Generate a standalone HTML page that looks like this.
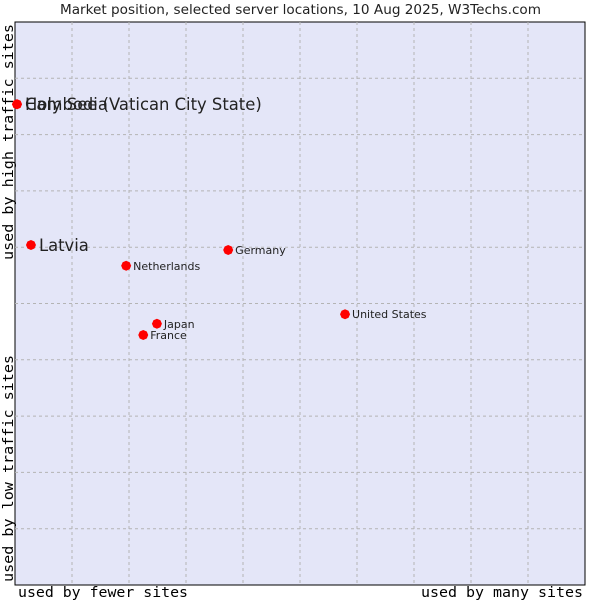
<!DOCTYPE html>
<html><head><meta charset="utf-8"><style>
body{margin:0;background:#fff;}
svg{display:block;font-family:"DejaVu Sans","Liberation Sans",sans-serif;}
.mono{font-family:"DejaVu Sans Mono","Liberation Mono",monospace;font-size:14px;}
</style></head><body>
<svg id="chart" width="600" height="600">
<text x="60" y="14" textLength="481" lengthAdjust="spacingAndGlyphs" font-size="13" fill="#222">Market position, selected server locations, 10 Aug 2025, W3Techs.com</text>
<rect x="15" y="22" width="570" height="563" fill="#e4e6f8" stroke="#000" stroke-width="1"/>
<g id="grid"></g>
<g id="points"></g>
<text class="mono" x="18" y="597" textLength="170" lengthAdjust="spacingAndGlyphs">used by fewer sites</text>
<text class="mono" x="421" y="597" textLength="162" lengthAdjust="spacingAndGlyphs">used by many sites</text>
<text class="mono" transform="translate(13,260) rotate(-90)" textLength="236" lengthAdjust="spacingAndGlyphs">used by high traffic sites</text>
<text class="mono" transform="translate(13,582) rotate(-90)" textLength="227" lengthAdjust="spacingAndGlyphs">used by low traffic sites</text>
</svg>
<script>
const names=["Cambodia","Holy See (Vatican City State)","Latvia","Netherlands","Germany","United States","Japan","France"];
const xVals=[0.35,0.35,2.8,19.5,37.4,57.9,24.9,22.5];
const yVals=[85.4,85.4,60.4,56.7,59.5,48.1,46.4,44.4];
const bigLabel=[true,true,true,false,false,false,false,false];
const X0=15,X1=585,Y0=585,Y1=22;
const sx=v=>X0+(X1-X0)*v/100, sy=v=>Y0-(Y0-Y1)*v/100;
const NS="http://www.w3.org/2000/svg";
const grid=document.getElementById('grid');
for(let i=1;i<10;i++){
  const v=document.createElementNS(NS,'line');
  
  
  v.setAttribute('x1',sx(i*10));v.setAttribute('x2',sx(i*10));v.setAttribute('y1',Y1);v.setAttribute('y2',Y0);
  v.setAttribute('stroke','#b4b4b4');v.setAttribute('stroke-dasharray','3,3');
  grid.appendChild(v);
  const h=document.createElementNS(NS,'line');
  
  
  h.setAttribute('y1',sy(i*10));h.setAttribute('y2',sy(i*10));h.setAttribute('x1',X0);h.setAttribute('x2',X1);
  h.setAttribute('stroke','#b4b4b4');h.setAttribute('stroke-dasharray','3,3');
  grid.appendChild(h);
}
const pts=document.getElementById('points');
names.forEach((n,i)=>{
  const x=sx(xVals[i]),y=sy(yVals[i]);
  const d=document.createElementNS(NS,'polygon');
  
  
  d.setAttribute('points',`${x},${y-5} ${x+3.5},${y-3.5} ${x+5},${y} ${x+3.5},${y+3.5} ${x},${y+5} ${x-3.5},${y+3.5} ${x-5},${y} ${x-3.5},${y-3.5}`);
  d.setAttribute('fill','#ff0000');
  pts.appendChild(d);
  const t=document.createElementNS(NS,'text');
  
  
  t.setAttribute('x',x+(bigLabel[i]?8:7));
  t.setAttribute('y',y+(bigLabel[i]?6:4));
  t.setAttribute('font-size',bigLabel[i]?16.4:11);
  t.setAttribute('fill','#222');
  t.textContent=n;
  pts.appendChild(t);
});
</script>
</body></html>
